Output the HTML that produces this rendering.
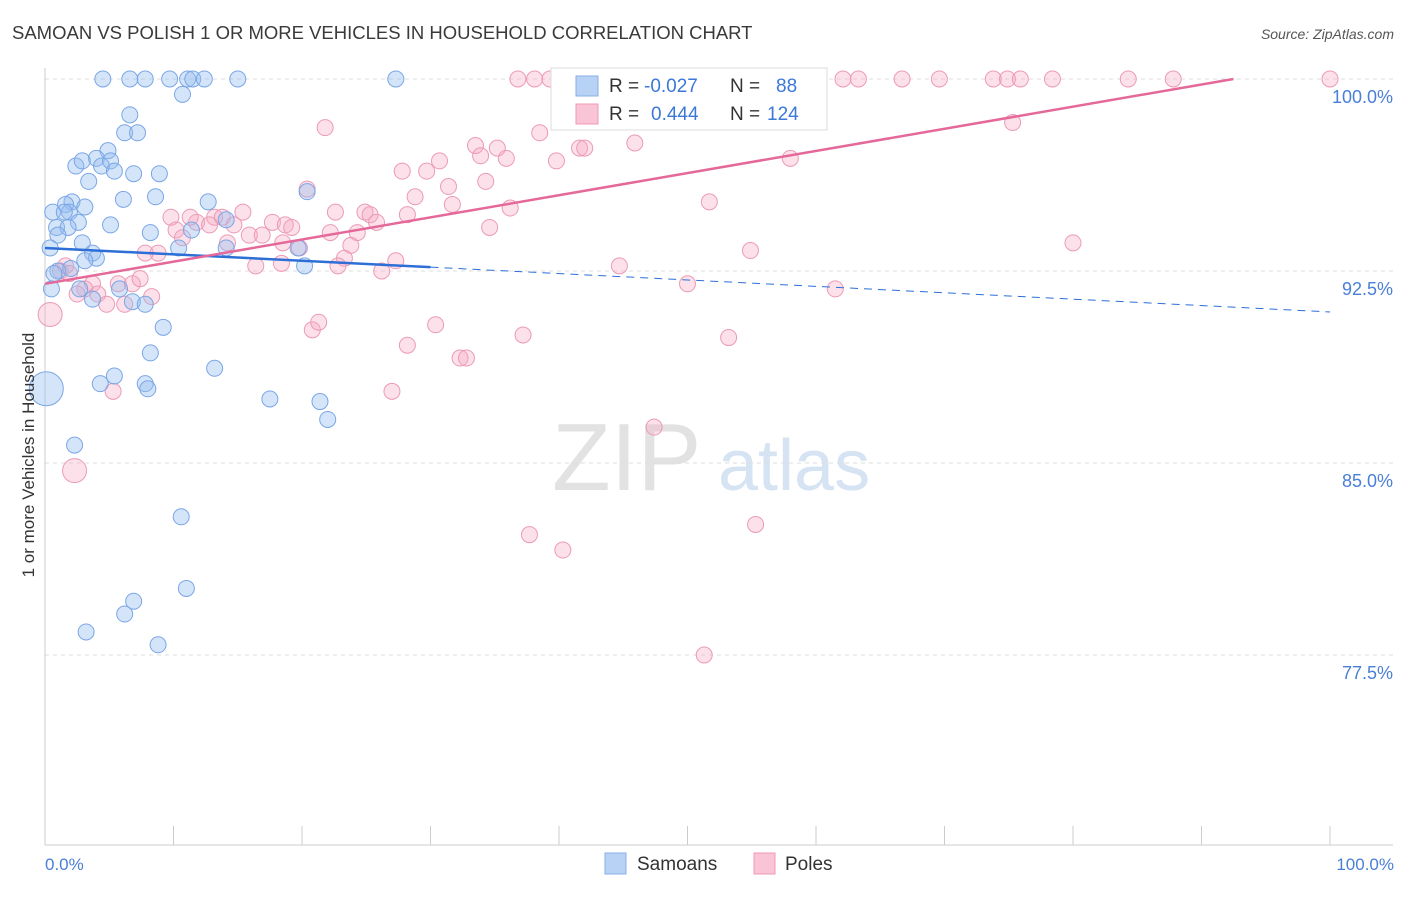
<!DOCTYPE html>
<html><head><meta charset="utf-8">
<style>
body{margin:0;background:#fff;font-family:"Liberation Sans",sans-serif;}
svg text{font-family:"Liberation Sans",sans-serif;}
</style></head>
<body>
<svg id="chart" width="1406" height="892" viewBox="0 0 1406 892" xmlns="http://www.w3.org/2000/svg">
<text x="12" y="39" font-size="18.5" fill="#3a3a3a">SAMOAN VS POLISH 1 OR MORE VEHICLES IN HOUSEHOLD CORRELATION CHART</text>
<text x="1394" y="39" font-size="14" fill="#555" font-style="italic" text-anchor="end">Source: ZipAtlas.com</text>
<g>
<text x="552" y="490" font-size="96" fill="#e2e2e2" font-family="Liberation Serif">ZIP</text>
<text x="718" y="490" font-size="72" fill="#d6e3f3">atlas</text>
</g>
<g id="grid"></g>
<g id="axes"></g>
<g id="marks"></g>
<g id="trends"></g>
<text transform="translate(34,455) rotate(-90)" font-size="17" fill="#333" text-anchor="middle">1 or more Vehicles in Household</text>
<text x="45" y="870" font-size="17" fill="#4a7fd6">0.0%</text>
<text x="1394" y="870" font-size="17" fill="#4a7fd6" text-anchor="end">100.0%</text>
<g>
<rect x="551" y="68" width="276" height="62" fill="#fff" stroke="#ddd"/>
<rect x="576" y="76" width="22" height="20" fill="#b8d2f5" stroke="#88aee8"/>
<text x="609" y="92" font-size="19" fill="#333">R = </text><text x="644" y="92" font-size="19" fill="#3b78d8">-0.027</text>
<text x="730" y="92" font-size="19" fill="#333">N = </text><text x="776" y="92" font-size="19" fill="#3b78d8">88</text>
<rect x="576" y="104" width="22" height="20" fill="#f9c4d5" stroke="#ee9ab5"/>
<text x="609" y="120" font-size="19" fill="#333">R = </text><text x="651" y="120" font-size="19" fill="#3b78d8">0.444</text>
<text x="730" y="120" font-size="19" fill="#333">N = </text><text x="767" y="120" font-size="19" fill="#3b78d8">124</text>
</g>
<g>
<rect x="605" y="853" width="21" height="21" fill="#b8d2f5" stroke="#88aee8"/>
<text x="637" y="870" font-size="19" fill="#333">Samoans</text>
<rect x="754" y="853" width="21" height="21" fill="#f9c4d5" stroke="#ee9ab5"/>
<text x="785" y="870" font-size="19" fill="#333">Poles</text>
</g>
</svg>
<script>
const yTicks=[100,92.5,85,77.5];
const yTickLabels=["100.0%","92.5%","85.0%","77.5%"];
const blueX=[4.5,6.6,7.8,9.7,11.1,11.5,12.4,15.0,27.3,10.7,6.6,6.2,7.2,4.9,4.0,2.4,2.9,4.4,5.1,5.4,6.9,8.9,3.4,2.1,1.6,1.9,8.6,12.7,6.1,3.1,0.6,1.5,2.6,5.1,0.9,1.8,8.2,11.4,14.1,1.0,2.9,0.4,3.7,10.4,4.0,3.1,2.0,1.0,0.7,20.2,0.5,2.7,3.7,5.8,6.8,7.8,9.2,8.2,13.2,4.3,5.4,7.8,8.0,17.5,21.4,22.0,2.3,10.6,11.0,6.9,6.2,3.2,8.8,0.1,14.1,19.7,20.4];
const blueY=[100,100,100,100,100,100,100,100,100,99.4,98.6,97.9,97.9,97.2,96.9,96.6,96.8,96.6,96.8,96.4,96.3,96.3,96.0,95.2,95.1,94.8,95.4,95.2,95.3,95.0,94.8,94.8,94.4,94.3,94.2,94.2,94.0,94.1,94.5,93.9,93.6,93.4,93.2,93.4,93.0,92.9,92.6,92.5,92.4,92.7,91.8,91.8,91.4,91.8,91.3,91.2,90.3,89.3,88.7,88.1,88.4,88.1,87.9,87.5,87.4,86.7,85.7,82.9,80.1,79.6,79.1,78.4,77.9,87.9,93.4,93.4,95.6];
const blueR=[8,8,8,8,8,8,8,8,8,8,8,8,8,8,8,8,8,8,8,8,8,8,8,8,8,8,8,8,8,8,8,8,8,8,8,8,8,8,8,8,8,8,8,8,8,8,8,8,8,8,8,8,8,8,8,8,8,8,8,8,8,8,8,8,8,8,8,8,8,8,8,8,8,17,8,8,8];
const pinkX=[36.8,38.1,39.3,41.2,43.2,46.3,47.1,49.4,50.2,51.4,55.6,62.1,63.3,66.7,69.6,73.8,74.9,75.9,78.4,84.3,87.8,100,40.9,75.3,21.8,38.5,33.5,35.2,33.9,35.9,41.6,42.0,45.9,30.7,27.8,29.7,39.8,58.0,34.3,31.4,20.4,28.8,31.7,28.2,36.2,51.7,24.9,25.3,25.8,22.6,9.8,11.8,11.3,13.2,13.8,15.4,12.8,10.2,10.7,14.7,15.9,16.9,17.7,18.7,19.2,19.8,22.2,24.3,23.8,23.3,22.8,27.3,26.2,16.4,18.4,14.2,8.8,7.8,34.6,80.0,54.9,44.7,50.0,61.5,1.6,1.2,1.9,3.7,3.1,4.1,5.7,6.8,7.4,8.3,6.2,4.8,2.5,0.4,2.3,20.8,21.3,28.2,30.4,32.3,32.8,37.2,53.2,27.0,5.3,47.4,55.3,37.7,40.3,51.3,18.5];
const pinkY=[100,100,100,100,100,100,100,100,100,100,100,100,100,100,100,100,100,100,100,100,100,100,99.5,98.3,98.1,97.9,97.4,97.3,97.0,96.9,97.3,97.3,97.5,96.8,96.4,96.4,96.8,96.9,96.0,95.8,95.7,95.4,95.1,94.7,94.96,95.2,94.8,94.7,94.4,94.8,94.6,94.4,94.6,94.6,94.6,94.8,94.3,94.1,93.8,94.3,93.9,93.9,94.4,94.3,94.2,93.4,94.0,94.0,93.5,93.0,92.7,92.9,92.5,92.7,92.8,93.6,93.2,93.2,94.2,93.6,93.3,92.7,92.0,91.8,92.7,92.5,92.4,92.0,91.8,91.6,92.0,92.0,92.2,91.5,91.2,91.2,91.6,90.8,84.7,90.2,90.5,89.6,90.4,89.1,89.1,90.0,89.9,87.8,87.8,86.4,82.6,82.2,81.6,77.5,93.6];
const pinkR=pinkX.map((v,i)=>(i===97||i===98)?12:8);
const blueTrend=[93.4,-0.025];
const pinkTrend=[92.0,0.0865];

const X0=45,X1=1330,Y100=79,PX_PER=25.6;
function sx(v){return X0+(X1-X0)*v/100;}
function sy(v){return Y100+(100-v)*PX_PER;}
const NS="http://www.w3.org/2000/svg";
function mk(tag,attrs,parent){const e=document.createElementNS(NS,tag);for(const k in attrs)e.setAttribute(k,attrs[k]);parent.appendChild(e);return e;}
const grid=document.getElementById('grid'),axes=document.getElementById('axes'),marks=document.getElementById('marks'),trends=document.getElementById('trends');
yTicks.forEach((t,i)=>{
 const l=mk('line',{x1:45,x2:1393,y1:sy(t),y2:sy(t),stroke:'#ddd','stroke-dasharray':'4,4'},grid);
 
 
 const tx=mk('text',{x:1393,y:sy(t)+24,'font-size':18,fill:'#4a7fd6','text-anchor':'end'},grid);
 tx.textContent=yTickLabels[i];
 
 
});
let a=mk('line',{x1:45,x2:45,y1:68,y2:845,stroke:'#ccc'},axes);


a=mk('line',{x1:45,x2:1393,y1:845,y2:845,stroke:'#ccc'},axes);


for(let k=0;k<=10;k++){
 const t=mk('line',{x1:sx(k*10),x2:sx(k*10),y1:826,y2:845,stroke:'#ccc'},axes);
 
 
}
function dots(xs,ys,rs,fill,stroke,name){
 xs.forEach((v,i)=>{
  const c=mk('circle',{cx:sx(v),cy:sy(ys[i]),r:rs[i],fill:fill,stroke:stroke,'stroke-width':1},marks);
  
  
 });
}
dots(pinkX,pinkY,pinkR,'rgba(246,170,196,0.35)','#ec9ab6','poles-point');
dots(blueX,blueY,blueR,'rgba(150,190,240,0.4)','#7aa6e6','samoans-point');
function ly(tr,x){return tr[0]+tr[1]*x;}
let l=mk('line',{x1:sx(0),y1:sy(ly(blueTrend,0)),x2:sx(30),y2:sy(ly(blueTrend,30)),stroke:'#2d6fd6','stroke-width':2.5},trends);


l=mk('line',{x1:sx(30),y1:sy(ly(blueTrend,30)),x2:sx(100),y2:sy(ly(blueTrend,100)),stroke:'#2d6fd6','stroke-width':1,'stroke-dasharray':'8,6'},trends);


const pEnd=Math.min(100,(100-pinkTrend[0])/pinkTrend[1]);
l=mk('line',{x1:sx(0),y1:sy(ly(pinkTrend,0)),x2:sx(pEnd),y2:sy(ly(pinkTrend,pEnd)),stroke:'#e5689a','stroke-width':2.5},trends);


</script>
</body></html>
